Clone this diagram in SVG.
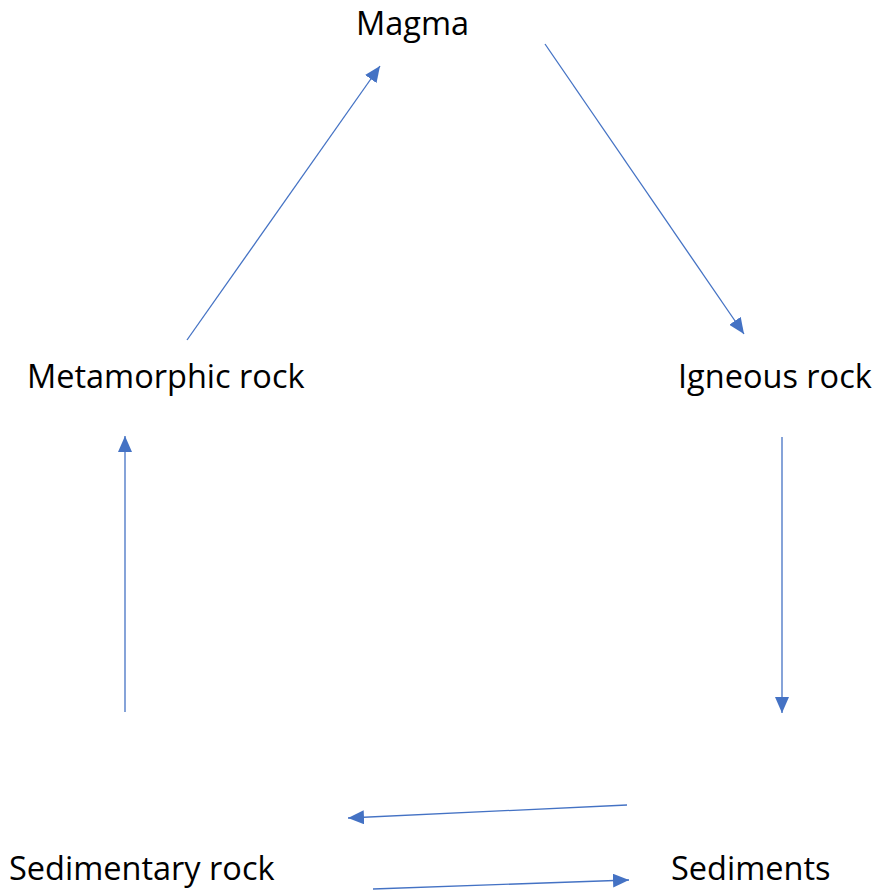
<svg xmlns="http://www.w3.org/2000/svg" width="877" height="890" viewBox="0 0 877 890">
<style>
text{font-family:"Open Sans","Noto Sans",sans-serif;font-size:32.5px;fill:#000}
.c line{stroke:#4472C4;stroke-width:1.3;fill:none;marker-end:url(#ah)}
</style>
<defs>
<marker id="ah" markerUnits="userSpaceOnUse" markerWidth="16" markerHeight="14" viewBox="0 0 16 14" refX="16" refY="7" orient="auto">
<path d="M0,0 L16,7 L0,14 Z" fill="#4472C4"/>
</marker>
</defs>
<rect width="877" height="890" fill="#fff"/>
<g id="magma"><text x="356" y="35">Magma</text></g>
<g id="metamorphic"><text x="27" y="388">Metamorphic rock</text></g>
<g id="igneous"><text x="678" y="388">Igneous rock</text></g>
<g id="sedimentary"><text x="9" y="880">Sedimentary rock</text></g>
<g id="sediments"><text x="671" y="880">Sediments</text></g>
<g class="c" id="connectors">
<line x1="187" y1="340" x2="380" y2="66"/>
<line x1="545" y1="44" x2="744" y2="334"/>
<line x1="782" y1="437" x2="782" y2="713"/>
<line x1="627" y1="805" x2="348" y2="818"/>
<line x1="373" y1="889" x2="629" y2="880"/>
<line x1="125" y1="712" x2="125" y2="436"/>
</g>
</svg>
